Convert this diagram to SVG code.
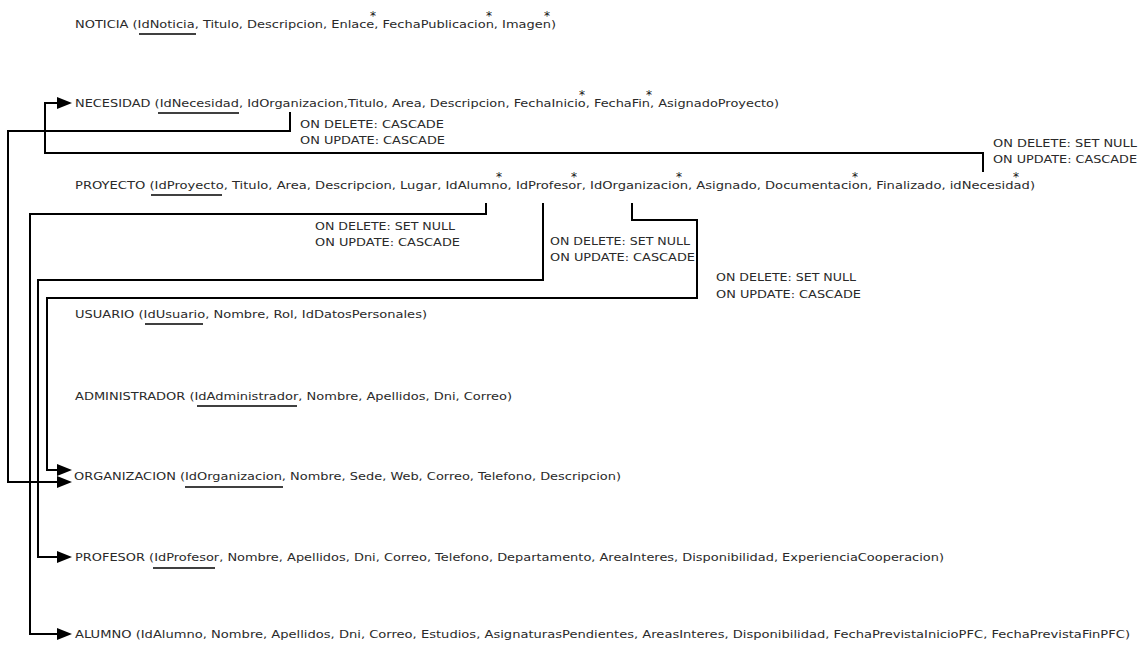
<svg xmlns="http://www.w3.org/2000/svg" width="1138" height="646" viewBox="0 0 1138 646">
<defs>
<style>
text{font-family:"DejaVu Sans","Liberation Sans",sans-serif;font-size:11px;fill:#2a2a2a}
.ast{font-size:12px;fill:#111}
.ul{stroke:#000;stroke-width:1.6}
.c{fill:none;stroke:#000;stroke-width:2}
.ah{fill:#000}
</style>
</defs>
<rect width="1138" height="646" fill="#fff"/>
<g id="connectors">
<polyline class="c" points="290,112 290,131 8,131 8,482 58,482"/>
<polygon class="ah" points="57,476 72,482 57,488"/>
<polyline class="c" points="983,172 983,153 45,153 45,103 58,103"/>
<polygon class="ah" points="57,97 72,103 57,109"/>
<polyline class="c" points="486,203 486,214 30,214 30,634 58,634"/>
<polygon class="ah" points="57,628 72,634 57,640"/>
<polyline class="c" points="543,203 543,280 38,280 38,557 58,557"/>
<polygon class="ah" points="57,551 72,557 57,563"/>
<polyline class="c" points="632,203 632,220 697,220 697,298 47,298 47,470 58,470"/>
<polygon class="ah" points="57,464 72,470 57,476"/>
<text x="300" y="128" textLength="144" lengthAdjust="spacingAndGlyphs">ON DELETE: CASCADE</text>
<text x="300" y="144" textLength="145" lengthAdjust="spacingAndGlyphs">ON UPDATE: CASCADE</text>
<text x="993" y="147" textLength="144" lengthAdjust="spacingAndGlyphs">ON DELETE: SET NULL</text>
<text x="993" y="163" textLength="144" lengthAdjust="spacingAndGlyphs">ON UPDATE: CASCADE</text>
<text x="315" y="230" textLength="140" lengthAdjust="spacingAndGlyphs">ON DELETE: SET NULL</text>
<text x="315" y="246" textLength="145" lengthAdjust="spacingAndGlyphs">ON UPDATE: CASCADE</text>
<text x="550" y="245" textLength="140" lengthAdjust="spacingAndGlyphs">ON DELETE: SET NULL</text>
<text x="550" y="261" textLength="145" lengthAdjust="spacingAndGlyphs">ON UPDATE: CASCADE</text>
<text x="716" y="281" textLength="140" lengthAdjust="spacingAndGlyphs">ON DELETE: SET NULL</text>
<text x="716" y="298" textLength="145" lengthAdjust="spacingAndGlyphs">ON UPDATE: CASCADE</text>
</g>
<g id="noticia">
<text x="75" y="28" textLength="481" lengthAdjust="spacingAndGlyphs">NOTICIA (IdNoticia, Titulo, Descripcion, Enlace, FechaPublicacion, Imagen)</text>
<line class="ul" x1="139" y1="34" x2="196" y2="34"/>
<text class="ast" x="370" y="20">*</text>
<text class="ast" x="486" y="20">*</text>
<text class="ast" x="544" y="20">*</text>
</g>
<g id="necesidad">
<text x="75" y="107" textLength="704" lengthAdjust="spacingAndGlyphs">NECESIDAD (IdNecesidad, IdOrganizacion,Titulo, Area, Descripcion, FechaInicio, FechaFin, AsignadoProyecto)</text>
<line class="ul" x1="158" y1="113" x2="239" y2="113"/>
<text class="ast" x="579" y="99">*</text>
<text class="ast" x="646" y="99">*</text>
</g>
<g id="proyecto">
<text x="75" y="189" textLength="960" lengthAdjust="spacingAndGlyphs">PROYECTO (IdProyecto, Titulo, Area, Descripcion, Lugar, IdAlumno, IdProfesor, IdOrganizacion, Asignado, Documentacion, Finalizado, idNecesidad)</text>
<line class="ul" x1="151" y1="195" x2="222" y2="195"/>
<text class="ast" x="496" y="181">*</text>
<text class="ast" x="571" y="181">*</text>
<text class="ast" x="676" y="181">*</text>
<text class="ast" x="852" y="181">*</text>
<text class="ast" x="1013" y="181">*</text>
</g>
<g id="usuario">
<text x="75" y="318" textLength="352" lengthAdjust="spacingAndGlyphs">USUARIO (IdUsuario, Nombre, Rol, IdDatosPersonales)</text>
<line class="ul" x1="145" y1="324" x2="203" y2="324"/>
</g>
<g id="administrador">
<text x="75" y="400" textLength="437" lengthAdjust="spacingAndGlyphs">ADMINISTRADOR (IdAdministrador, Nombre, Apellidos, Dni, Correo)</text>
<line class="ul" x1="197" y1="406" x2="297" y2="406"/>
</g>
<g id="organizacion">
<text x="74" y="480" textLength="547" lengthAdjust="spacingAndGlyphs">ORGANIZACION (IdOrganizacion, Nombre, Sede, Web, Correo, Telefono, Descripcion)</text>
<line class="ul" x1="185" y1="487" x2="283" y2="487"/>
</g>
<g id="profesor">
<text x="75" y="561" textLength="869" lengthAdjust="spacingAndGlyphs">PROFESOR (IdProfesor, Nombre, Apellidos, Dni, Correo, Telefono, Departamento, AreaInteres, Disponibilidad, ExperienciaCooperacion)</text>
<line class="ul" x1="153" y1="568" x2="215" y2="568"/>
</g>
<g id="alumno">
<text x="75" y="638" textLength="1055" lengthAdjust="spacingAndGlyphs">ALUMNO (IdAlumno, Nombre, Apellidos, Dni, Correo, Estudios, AsignaturasPendientes, AreasInteres, Disponibilidad, FechaPrevistaInicioPFC, FechaPrevistaFinPFC)</text>
</g>
</svg>
